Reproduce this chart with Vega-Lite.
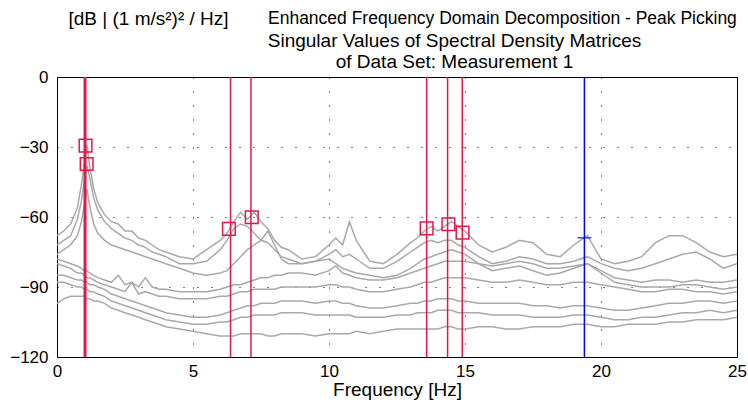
{
  "$schema": "https://vega.github.io/schema/vega-lite/v6.json",
  "autosize": {"type": "none"},
  "padding": {"left": 57, "top": 77, "right": 11, "bottom": 51},
  "width": 680,
  "height": 280,
  "background": "white",
  "title": {"text": "Enhanced Frequency Domain Decomposition - Peak Picking", "anchor": "start", "frame": "group", "dx": 211, "fontSize": 17.5, "fontWeight": "normal", "font": "Liberation Sans", "color": "black", "offset": -18},
  "config": {"font": "Liberation Sans", "view": {"stroke": "black", "strokeWidth": 1}, "axis": {"labelColor": "black", "titleColor": "black", "labelFont": "Liberation Sans", "titleFont": "Liberation Sans"}},
  "datasets": {
    "sv": [
      {"f":0,"a":-68,"b":-72,"c":-76,"d":-78,"e":-80,"g":-85,"h":-88,"i":-97},
      {"f":0.25,"a":-66,"b":-70,"c":-74,"d":-79,"e":-81,"g":-85,"h":-88,"i":-95},
      {"f":0.5,"a":-63,"b":-68,"c":-72,"d":-80,"e":-82,"g":-86,"h":-89,"i":-94},
      {"f":0.75,"a":-56,"b":-61,"c":-68,"d":-81,"e":-84,"g":-87,"h":-90,"i":-94},
      {"f":0.9,"a":-46,"b":-53,"c":-62,"d":-82,"e":-84,"g":-87,"h":-90,"i":-94},
      {"f":1.0,"a":-37,"b":-45,"c":-55,"d":-83,"e":-85,"g":-88,"h":-91,"i":-94},
      {"f":1.1,"a":-29,"b":-38,"c":-48,"d":-83,"e":-86,"g":-88,"h":-91,"i":-95},
      {"f":1.2,"a":-38,"b":-43,"c":-55,"d":-84,"e":-86,"g":-89,"h":-92,"i":-95},
      {"f":1.35,"a":-48,"b":-52,"c":-63,"d":-85,"e":-87,"g":-89,"h":-92,"i":-96},
      {"f":1.5,"a":-54,"b":-57,"c":-67,"d":-86,"e":-88,"g":-90,"h":-93,"i":-96},
      {"f":1.75,"a":-59,"b":-62,"c":-70,"d":-87,"e":-89,"g":-91,"h":-94,"i":-97},
      {"f":2,"a":-62,"b":-65,"c":-72,"d":-88,"e":-90,"g":-93,"h":-96,"i":-99},
      {"f":2.25,"a":-63,"b":-67,"c":-73,"d":-85,"e":-91,"g":-94,"h":-97,"i":-100},
      {"f":2.5,"a":-66,"b":-69,"c":-74,"d":-89,"e":-92,"g":-95,"h":-98,"i":-101},
      {"f":2.75,"a":-66,"b":-70,"c":-75,"d":-88,"e":-88,"g":-96,"h":-99,"i":-102},
      {"f":3,"a":-69,"b":-72,"c":-76,"d":-90,"e":-93,"g":-97,"h":-100,"i":-103},
      {"f":3.25,"a":-70,"b":-73,"c":-77,"d":-86,"e":-92,"g":-98,"h":-101,"i":-104},
      {"f":3.5,"a":-72,"b":-75,"c":-78,"d":-90,"e":-93,"g":-99,"h":-102,"i":-105},
      {"f":3.75,"a":-74,"b":-76,"c":-79,"d":-91,"e":-94,"g":-100,"h":-103,"i":-106},
      {"f":4,"a":-75,"b":-77,"c":-80,"d":-91,"e":-94,"g":-101,"h":-104,"i":-107},
      {"f":4.5,"a":-77,"b":-80,"c":-82,"d":-92,"e":-95,"g":-102,"h":-105,"i":-108},
      {"f":5,"a":-78,"b":-80,"c":-84,"d":-92,"e":-95,"g":-103,"h":-106,"i":-109},
      {"f":5.5,"a":-74,"b":-79,"c":-85,"d":-92,"e":-95,"g":-103,"h":-106,"i":-110},
      {"f":6,"a":-70,"b":-74,"c":-84,"d":-91,"e":-94,"g":-102,"h":-105,"i":-111},
      {"f":6.25,"a":-67,"b":-70,"c":-83,"d":-90,"e":-94,"g":-101,"h":-105,"i":-111},
      {"f":6.5,"a":-62,"b":-65,"c":-80,"d":-89,"e":-93,"g":-100,"h":-104,"i":-111},
      {"f":6.75,"a":-58,"b":-63,"c":-77,"d":-89,"e":-92,"g":-99,"h":-103,"i":-110},
      {"f":7,"a":-61,"b":-64,"c":-74,"d":-88,"e":-92,"g":-98,"h":-103,"i":-110},
      {"f":7.25,"a":-58,"b":-67,"c":-72,"d":-87,"e":-91,"g":-98,"h":-102,"i":-110},
      {"f":7.5,"a":-62,"b":-70,"c":-70,"d":-86,"e":-91,"g":-97,"h":-102,"i":-110},
      {"f":7.75,"a":-65,"b":-71,"c":-66,"d":-86,"e":-91,"g":-97,"h":-102,"i":-111},
      {"f":8,"a":-70,"b":-74,"c":-72,"d":-85,"e":-91,"g":-97,"h":-102,"i":-111},
      {"f":8.25,"a":-73,"b":-77,"c":-78,"d":-85,"e":-90,"g":-96,"h":-101,"i":-110},
      {"f":8.5,"a":-74,"b":-78,"c":-80,"d":-84,"e":-90,"g":-96,"h":-101,"i":-110},
      {"f":9,"a":-78,"b":-80,"c":-80,"d":-84,"e":-90,"g":-96,"h":-101,"i":-110},
      {"f":9.5,"a":-77,"b":-79,"c":-79,"d":-85,"e":-90,"g":-97,"h":-102,"i":-111},
      {"f":10,"a":-72,"b":-76,"c":-78,"d":-83,"e":-89,"g":-96,"h":-102,"i":-110},
      {"f":10.25,"a":-69,"b":-74,"c":-80,"d":-81,"e":-89,"g":-96,"h":-102,"i":-110},
      {"f":10.5,"a":-72,"b":-77,"c":-82,"d":-84,"e":-90,"g":-97,"h":-102,"i":-110},
      {"f":10.75,"a":-62,"b":-76,"c":-83,"d":-85,"e":-90,"g":-97,"h":-102,"i":-110},
      {"f":11,"a":-70,"b":-78,"c":-84,"d":-86,"e":-91,"g":-98,"h":-103,"i":-109},
      {"f":11.5,"a":-79,"b":-82,"c":-85,"d":-87,"e":-92,"g":-99,"h":-103,"i":-110},
      {"f":12,"a":-80,"b":-82,"c":-86,"d":-87,"e":-92,"g":-99,"h":-103,"i":-109},
      {"f":12.5,"a":-76,"b":-79,"c":-85,"d":-86,"e":-91,"g":-98,"h":-102,"i":-108},
      {"f":13,"a":-71,"b":-75,"c":-82,"d":-84,"e":-90,"g":-97,"h":-102,"i":-108},
      {"f":13.25,"a":-69,"b":-73,"c":-80,"d":-83,"e":-89,"g":-97,"h":-101,"i":-108},
      {"f":13.5,"a":-66,"b":-71,"c":-78,"d":-82,"e":-88,"g":-96,"h":-101,"i":-108},
      {"f":13.75,"a":-64,"b":-70,"c":-77,"d":-81,"e":-88,"g":-96,"h":-101,"i":-108},
      {"f":14,"a":-66,"b":-71,"c":-76,"d":-80,"e":-87,"g":-95,"h":-100,"i":-108},
      {"f":14.25,"a":-64,"b":-70,"c":-75,"d":-79,"e":-86,"g":-95,"h":-100,"i":-107},
      {"f":14.5,"a":-62,"b":-70,"c":-74,"d":-79,"e":-86,"g":-95,"h":-100,"i":-107},
      {"f":14.75,"a":-64,"b":-72,"c":-75,"d":-79,"e":-86,"g":-96,"h":-101,"i":-108},
      {"f":15,"a":-66,"b":-73,"c":-76,"d":-79,"e":-86,"g":-96,"h":-101,"i":-108},
      {"f":15.5,"a":-72,"b":-77,"c":-80,"d":-80,"e":-87,"g":-97,"h":-101,"i":-107},
      {"f":16,"a":-75,"b":-80,"c":-83,"d":-81,"e":-88,"g":-97,"h":-102,"i":-107},
      {"f":16.5,"a":-73,"b":-79,"c":-82,"d":-80,"e":-88,"g":-97,"h":-102,"i":-108},
      {"f":17,"a":-70,"b":-77,"c":-81,"d":-79,"e":-87,"g":-97,"h":-102,"i":-108},
      {"f":17.5,"a":-71,"b":-78,"c":-83,"d":-80,"e":-88,"g":-98,"h":-103,"i":-107},
      {"f":18,"a":-76,"b":-80,"c":-85,"d":-82,"e":-89,"g":-98,"h":-103,"i":-107},
      {"f":18.5,"a":-77,"b":-80,"c":-84,"d":-82,"e":-89,"g":-99,"h":-103,"i":-107},
      {"f":19,"a":-72,"b":-79,"c":-82,"d":-81,"e":-88,"g":-98,"h":-102,"i":-106},
      {"f":19.5,"a":-68,"b":-77,"c":-80,"d":-80,"e":-88,"g":-98,"h":-102,"i":-106},
      {"f":20,"a":-78,"b":-80,"c":-83,"d":-84,"e":-89,"g":-99,"h":-103,"i":-107},
      {"f":20.5,"a":-80,"b":-82,"c":-86,"d":-88,"e":-90,"g":-100,"h":-104,"i":-107},
      {"f":21,"a":-79,"b":-83,"c":-87,"d":-89,"e":-91,"g":-100,"h":-104,"i":-106},
      {"f":21.5,"a":-77,"b":-82,"c":-88,"d":-90,"e":-92,"g":-99,"h":-103,"i":-106},
      {"f":22,"a":-71,"b":-80,"c":-87,"d":-90,"e":-92,"g":-98,"h":-103,"i":-106},
      {"f":22.5,"a":-68,"b":-78,"c":-87,"d":-90,"e":-91,"g":-97,"h":-102,"i":-105},
      {"f":23,"a":-68,"b":-76,"c":-88,"d":-89,"e":-91,"g":-97,"h":-101,"i":-105},
      {"f":23.5,"a":-71,"b":-75,"c":-87,"d":-89,"e":-92,"g":-96,"h":-101,"i":-104},
      {"f":24,"a":-75,"b":-78,"c":-88,"d":-90,"e":-92,"g":-96,"h":-100,"i":-104},
      {"f":24.5,"a":-77,"b":-82,"c":-88,"d":-91,"e":-93,"g":-97,"h":-101,"i":-104},
      {"f":25,"a":-76,"b":-80,"c":-87,"d":-90,"e":-92,"g":-96,"h":-100,"i":-103}
    ],
    "redlines": [{"f":6.38},{"f":7.13},{"f":13.59},{"f":14.36},{"f":14.9}],
    "thickline": [{"f":1.03}],
    "peaks": [{"f":1.05,"v":-29.4},{"f":1.09,"v":-37.3},{"f":6.32,"v":-65.1},{"f":7.16,"v":-60.1},{"f":13.59,"v":-64.9},{"f":14.39,"v":-63.1},{"f":14.91,"v":-66.7}],
    "blue": [{"f":19.39,"v":-68.9}]
  },
  "resolve": {"axis": {"x": "independent"}},
  "layer": [
    {
      "data": {"name": "sv"},
      "transform": [{"fold": ["a","b","c","d","e","g","h","i"], "as": ["sv","v"]}],
      "mark": {"type": "line", "color": "#a9a9a9", "strokeWidth": 1.5, "clip": true},
      "encoding": {
        "x": {"field": "f", "type": "quantitative", "scale": {"domain": [0,25], "nice": false, "zero": false},
              "axis": {"values": [0,5,10,15,20,25], "grid": true, "gridDash": [1,13], "gridColor": "black", "gridOpacity": 1, "ticks": false, "domain": false, "labelFontSize": 17, "labelPadding": 6, "labelFlush": false, "title": "Frequency [Hz]", "titleFontSize": 19, "titleFontWeight": "normal", "titlePadding": 1}},
        "y": {"field": "v", "type": "quantitative", "scale": {"domain": [-120,0], "nice": false, "zero": false},
              "axis": {"values": [0,-30,-60,-90,-120], "grid": true, "gridDash": [1,13], "gridColor": "black", "gridOpacity": 1, "ticks": false, "domain": false, "labelFontSize": 17, "labelPadding": 9, "title": "[dB | (1 m/s²)² / Hz]", "titleAngle": 0, "titleX": 11, "titleY": -53, "titleAlign": "left", "titleBaseline": "alphabetic", "titleFontSize": 19, "titleFontWeight": "normal"}},
        "detail": {"field": "sv"}
      }
    },
    {
      "data": {"name": "redlines"},
      "mark": {"type": "rule", "color": "#e0194b", "strokeWidth": 1.5},
      "encoding": {"x": {"field": "f", "type": "quantitative", "axis": null}}
    },
    {
      "data": {"name": "thickline"},
      "mark": {"type": "rule", "color": "#e0194b", "strokeWidth": 3},
      "encoding": {"x": {"field": "f", "type": "quantitative", "axis": null}}
    },
    {
      "data": {"name": "blue"},
      "mark": {"type": "rule", "color": "#0000ff", "strokeWidth": 1.5},
      "encoding": {"x": {"field": "f", "type": "quantitative",
        "axis": {"orient": "top", "labels": false, "ticks": false, "domain": false, "grid": false, "title": ["Singular Values of Spectral Density Matrices", "of Data Set: Measurement 1"], "titleX": 397, "titleY": -31, "titleAlign": "center", "titleBaseline": "alphabetic", "titleAngle": 0, "titleFontSize": 19, "titleFontWeight": "normal", "titleLineHeight": 21}}}
    },
    {
      "data": {"name": "blue"},
      "mark": {"type": "point", "shape": "M-1,0L1,0", "size": 196, "stroke": "#0000ff", "strokeWidth": 1.5, "filled": false},
      "encoding": {"x": {"field": "f", "type": "quantitative", "axis": null}, "y": {"field": "v", "type": "quantitative"}}
    },
    {
      "data": {"name": "peaks"},
      "mark": {"type": "point", "shape": "square", "size": 160, "stroke": "#e0194b", "strokeWidth": 1.5, "filled": false, "opacity": 1},
      "encoding": {"x": {"field": "f", "type": "quantitative", "axis": null}, "y": {"field": "v", "type": "quantitative"}}
    }
  ]
}
